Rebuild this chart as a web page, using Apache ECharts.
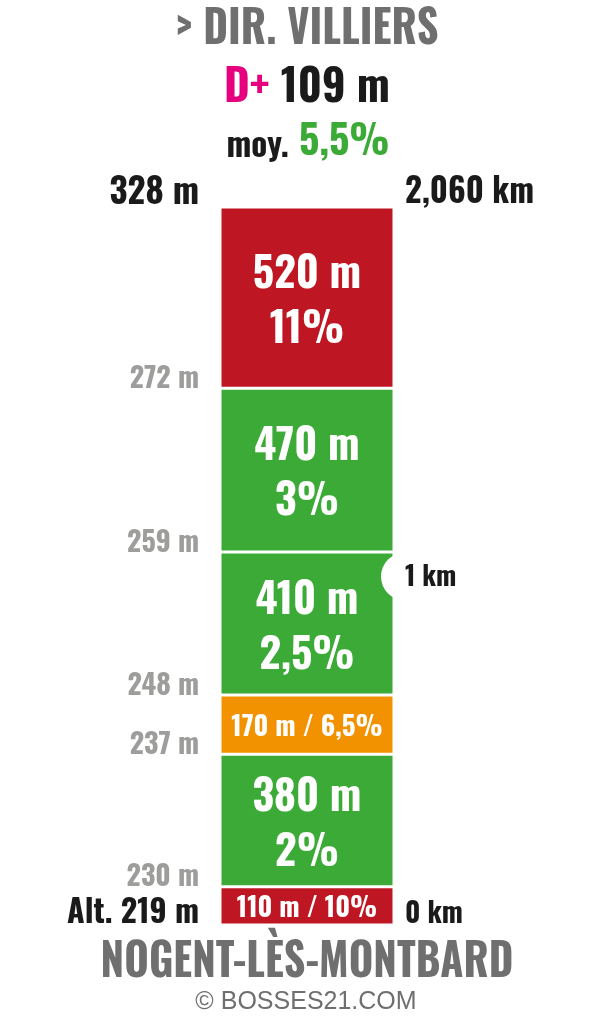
<!DOCTYPE html>
<html>
<head>
<meta charset="utf-8">
<script src="https://cdn.jsdelivr.net/npm/echarts@6/dist/echarts.min.js"></script>
<style>
html,body{margin:0;padding:0;background:#fff;}
#main{width:600px;height:1024px;}
</style>
</head>
<body>
<div id="main"></div>
<script>
// ---- data ----
var segmentLengths = [110, 380, 170, 410, 470, 520];      // m, bottom to top
var segmentGrades  = [10, 2, 6.5, 2.5, 3, 11];            // %
var altitudes      = [219, 230, 237, 248, 259, 272, 328]; // m, at segment boundaries
var kmMarks        = [0, 1000, 2060];                     // m along the route
var notchMarks     = [1000];
var titleText      = '> DIR. VILLIERS';
var gainText       = '109 m';
var avgText        = '5,5%';
var startName      = 'NOGENT-LÈS-MONTBARD';
var creditText     = '© BOSSES21.COM';

var FONT = "Oswald, 'Roboto Condensed', 'Open Sans Condensed', 'DejaVu Sans Condensed', sans-serif";
var RED = '#be1622', GREEN = '#3caa36', ORANGE = '#f39200';
var DARK = '#1a1a1a', GREY = '#9d9d9c', TITLEGREY = '#706f6f';

function gradeColor(g){ return g >= 9 ? RED : (g >= 5 ? ORANGE : GREEN); }
function fr(n){ return String(n).replace('.', ','); }
function kmText(m){
  if (m % 1000 === 0) return (m/1000) + ' km';
  return (m/1000).toFixed(3).replace('.', ',') + ' km';
}

var total = segmentLengths.reduce(function(a,b){return a+b;},0);
var cum = [0];
segmentLengths.forEach(function(l,i){ cum.push(cum[i] + l); });

var series = segmentLengths.map(function(len, i){
  var big = len >= 300;
  return {
    type: 'bar',
    stack: 'route',
    barWidth: '100%',
    data: [len],
    itemStyle: { color: gradeColor(segmentGrades[i]), borderColor: '#fff', borderWidth: 1.5 },
    label: {
      show: true,
      position: 'inside',
      fontFamily: FONT,
      fontWeight: 'bold',
      color: '#fff',
      fontSize: big ? 42 : 27,
      lineHeight: big ? 55 : 34,
      offset: big ? [0, 5] : [0, 3],
      formatter: big ? (len + ' m\n' + fr(segmentGrades[i]) + '%') : (len + ' m / ' + fr(segmentGrades[i]) + '%')
    },
    emphasis: { disabled: true },
    z: 2
  };
});

// altitude labels on the left
series.push({
  type: 'scatter',
  symbolSize: 0,
  silent: true,
  z: 4,
  itemStyle: { opacity: 1 },
  data: cum.map(function(d, i){
    var first = i === 0, last = i === cum.length - 1;
    var item = { value: [0, d] };
    if (first) item.label = { fontSize: 32, color: DARK, offset: [0, -12], formatter: 'Alt. ' + altitudes[i] + ' m' };
    else if (last) item.label = { fontSize: 35, color: DARK, offset: [0, -14] };
    return item;
  }),
  label: {
    show: true,
    position: 'left',
    distance: 108,
    fontFamily: FONT,
    fontWeight: 'bold',
    fontSize: 28,
    color: GREY,
    offset: [0, -9],
    formatter: function(p){ return altitudes[p.dataIndex] + ' m'; }
  }
});

// white notch at 1 km
series.push({
  type: 'scatter',
  symbol: 'circle',
  symbolSize: 48,
  symbolOffset: [98, 0],
  silent: true,
  z: 3,
  itemStyle: { color: '#fff', opacity: 1 },
  data: notchMarks.map(function(d){ return [0, d]; })
});

// km labels on the right
series.push({
  type: 'scatter',
  symbolSize: 0,
  silent: true,
  z: 5,
  itemStyle: { opacity: 1 },
  data: kmMarks.map(function(d, i){
    var item = { value: [0, d] };
    if (d === total) item.label = { fontSize: 33, offset: [0, -14] };
    else if (d === 0) item.label = { fontSize: 28, offset: [0, -11] };
    return item;
  }),
  label: {
    show: true,
    position: 'right',
    distance: 98,
    fontFamily: FONT,
    fontWeight: 'bold',
    fontSize: 27,
    color: DARK,
    offset: [0, 1],
    formatter: function(p){ return kmText(kmMarks[p.dataIndex]); }
  }
});

var chart = echarts.init(document.getElementById('main'), null, { renderer: 'canvas' });
chart.setOption({
  animation: false,
  backgroundColor: '#fff',
  grid: { left: 220, top: 207, width: 174, height: 718 },
  xAxis: { type: 'category', data: ['route'], show: false, boundaryGap: true },
  yAxis: { type: 'value', min: 0, max: total, show: false },
  graphic: [
    { type: 'text', x: 307, y: 30, scaleX: 0.94,
      style: { text: titleText, fill: TITLEGREY, font: 'bold 45px ' + FONT, textAlign: 'center', textVerticalAlign: 'middle' } },
    { type: 'text', x: 307, y: 89,
      style: { text: '{a|D+}{b| ' + gainText + '}', textAlign: 'center', textVerticalAlign: 'middle',
        rich: { a: { fill: '#e6007e', fontFamily: FONT, fontWeight: 'bold', fontSize: 44 },
                b: { fill: DARK, fontFamily: FONT, fontWeight: 'bold', fontSize: 44 } } } },
    { type: 'text', x: 308, y: 143,
      style: { text: '{a|moy.}{b| ' + avgText + '}', textAlign: 'center', textVerticalAlign: 'middle',
        rich: { a: { fill: DARK, fontFamily: FONT, fontWeight: 'bold', fontSize: 33, verticalAlign: 'bottom' },
                b: { fill: GREEN, fontFamily: FONT, fontWeight: 'bold', fontSize: 40, verticalAlign: 'bottom' } } } },
    { type: 'text', x: 307, y: 963, scaleX: 0.935,
      style: { text: startName, fill: TITLEGREY, font: 'bold 45px ' + FONT, textAlign: 'center', textVerticalAlign: 'middle' } },
    { type: 'text', x: 306, y: 1002,
      style: { text: creditText, fill: '#6f6f6e', font: '25px "Liberation Sans", Arial, sans-serif', textAlign: 'center', textVerticalAlign: 'middle' } }
  ],
  series: series
});
</script>
</body>
</html>
